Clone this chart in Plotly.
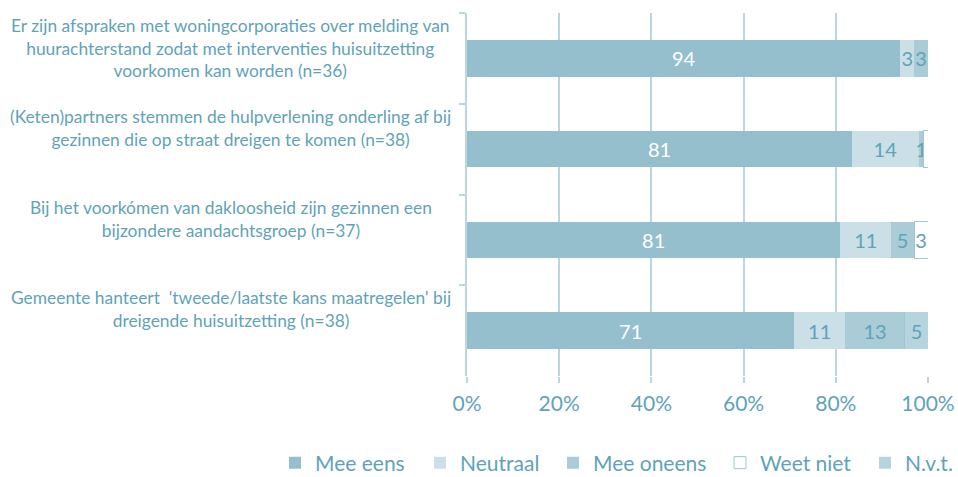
import plotly.graph_objects as go

statements = [
    "Er zijn afspraken met woningcorporaties over melding van<br>huurachterstand zodat met interventies huisuitzetting<br>voorkomen kan worden (n=36)",
    "(Keten)partners stemmen de hulpverlening onderling af bij<br>gezinnen die op straat dreigen te komen (n=38)",
    "Bij het voorkómen van dakloosheid zijn gezinnen een<br>bijzondere aandachtsgroep (n=37)",
    "Gemeente hanteert  'tweede/laatste kans maatregelen' bij<br>dreigende huisuitzetting (n=38)",
]

mee_eens = [94, 83.5, 81, 71]
neutraal = [3, 14.5, 11, 11]
mee_oneens = [3, 1.1, 5, 13]
weet_niet = [0, 0.9, 3, 0]
nvt = [0, 0, 0, 5]

# labels as printed in the chart
mee_eens_lbl = ["94", "81", "81", "71"]
neutraal_lbl = ["3", "14", "11", "11"]
mee_oneens_lbl = ["3", "1", "5", "13"]
weet_niet_lbl = ["", "", "3", ""]
nvt_lbl = ["", "", "", "5"]

x_ticks = [0, 20, 40, 60, 80, 100]

TEAL = "#5FA3B8"
GRID = "#BCD6DF"
FONT = "Lato"

series = [
    ("Mee eens", mee_eens, mee_eens_lbl, "#96BFCD", "white"),
    ("Neutraal", neutraal, neutraal_lbl, "#CADFE6", TEAL),
    ("Mee oneens", mee_oneens, mee_oneens_lbl, "#A9CCD7", TEAL),
    ("Weet niet", weet_niet, weet_niet_lbl, "white", TEAL),
    ("N.v.t.", nvt, nvt_lbl, "#B5D4DE", TEAL),
]
# one legend per item so the entries can sit where they are in the original
legend_x = [275, 420, 553, 720, 865]

fig = go.Figure()
legends = {}
for k, (name, vals, lbls, color, tcolor) in enumerate(series):
    line = dict(color="#9FC6D2", width=1) if name == "Weet niet" else dict(width=0)
    lg = "legend" if k == 0 else f"legend{k + 1}"
    fig.add_trace(go.Bar(
        y=statements,
        x=vals,
        orientation="h",
        name=name,
        legend=lg,
        showlegend=True,
        text=lbls,
        textposition="inside",
        insidetextanchor="middle",
        textangle=0,
        textfont=dict(color=tcolor, size=20, family=FONT),
        marker=dict(color=color, line=line),
        hoverinfo="skip",
    ))
    legends[lg] = dict(
        orientation="h", xref="container", yref="container",
        x=legend_x[k] / 958, xanchor="left", y=14 / 477, yanchor="middle",
        font=dict(size=21, color=TEAL, family=FONT),
        bgcolor="rgba(0,0,0,0)",
    )

for i, s in enumerate(statements):
    fig.add_annotation(
        x=-0.512, xref="paper", xanchor="center",
        y=i - 0.5, yref="y", yanchor="top",
        text=s, showarrow=False, align="center",
        font=dict(color=TEAL, size=17.4, family=FONT),
    )

fig.update_layout(
    width=958, height=477,
    barmode="stack", bargap=0.6,
    margin=dict(l=467, r=30, t=13, b=101, autoexpand=False),
    plot_bgcolor="white", paper_bgcolor="white",
    font=dict(family=FONT, color=TEAL),
    uniformtext=dict(minsize=20, mode="show"),
    showlegend=True,
    **legends,
)
fig.update_xaxes(
    range=[0, 100], tickvals=x_ticks,
    ticktext=[f"{v}%" for v in x_ticks],
    showgrid=True, gridcolor=GRID, gridwidth=1.5,
    zeroline=False, showline=False,
    ticks="outside", ticklen=6, tickcolor=GRID, tickwidth=1.5,
    ticklabelstandoff=3,
    tickfont=dict(size=21, color=TEAL, family=FONT),
)
fig.update_yaxes(
    range=[len(statements) - 0.5, -0.5], showticklabels=False,
    showline=True, linecolor=GRID, linewidth=1.5,
    ticks="outside", tickson="boundaries", ticklen=6,
    tickcolor=GRID, tickwidth=1.5, showgrid=False,
)

fig.write_html(
    "out.html",
    config={"displayModeBar": False},
    post_script="document.body.style.margin = '0';",
)
